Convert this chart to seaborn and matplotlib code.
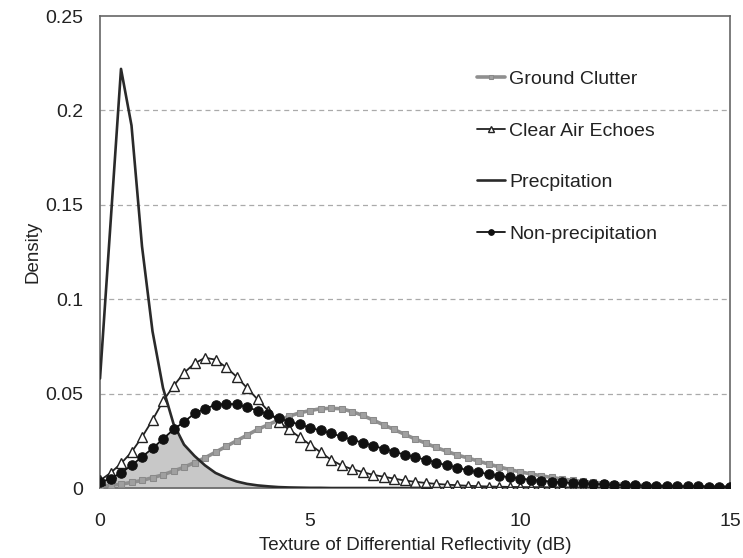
import numpy as np
import pandas as pd
import matplotlib
matplotlib.use("Agg")
import matplotlib.pyplot as plt
import seaborn as sns

x_db = [i * 0.25 for i in range(61)]

ground_clutter = [
    0.001, 0.0015, 0.002, 0.003, 0.004, 0.0055, 0.007, 0.009, 0.011, 0.0135,
    0.016, 0.019, 0.022, 0.025, 0.028, 0.031, 0.0335, 0.036, 0.038, 0.0398,
    0.041, 0.042, 0.0422, 0.042, 0.0405, 0.0385, 0.036, 0.0335, 0.031, 0.0285,
    0.026, 0.0238, 0.0215, 0.0195, 0.0175, 0.016, 0.0143, 0.0127, 0.0112, 0.0098,
    0.0086, 0.0075, 0.0065, 0.0056, 0.0048, 0.0041, 0.0035, 0.003, 0.0026, 0.0022,
    0.0019, 0.0016, 0.0014, 0.0012, 0.001, 0.0009, 0.0008, 0.0007, 0.0006, 0.0005,
    0.0004,
]

clear_air = [
    0.004, 0.008, 0.013, 0.019, 0.027, 0.036, 0.046, 0.054, 0.061, 0.066,
    0.069, 0.068, 0.064, 0.059, 0.053, 0.047, 0.041, 0.035, 0.031, 0.027,
    0.023, 0.019, 0.015, 0.012, 0.010, 0.0085, 0.007, 0.006, 0.005, 0.004,
    0.0033, 0.0027, 0.0022, 0.0018, 0.0015, 0.0012, 0.001, 0.0008, 0.0007, 0.0006,
    0.0005, 0.0004, 0.0004, 0.0003, 0.0003, 0.0002, 0.0002, 0.0002, 0.0001, 0.0001,
    0.0001, 0.0001, 0.0001, 0.0001, 0.0001, 0.0, 0.0, 0.0, 0.0, 0.0,
    0.0,
]

precipitation = [
    0.058, 0.14, 0.222, 0.192, 0.128, 0.083, 0.053, 0.034, 0.023, 0.017,
    0.012, 0.008, 0.0055, 0.0035, 0.0022, 0.0014, 0.0009, 0.0005, 0.0003, 0.0002,
    0.0001, 0.0001, 0.0, 0.0, 0.0, 0.0, 0.0, 0.0, 0.0, 0.0,
    0.0, 0.0, 0.0, 0.0, 0.0, 0.0, 0.0, 0.0, 0.0, 0.0,
    0.0, 0.0, 0.0, 0.0, 0.0, 0.0, 0.0, 0.0, 0.0, 0.0,
    0.0, 0.0, 0.0, 0.0, 0.0, 0.0, 0.0, 0.0, 0.0, 0.0,
    0.0,
]

non_precipitation = [
    0.003, 0.005, 0.008, 0.012, 0.0165, 0.021, 0.026, 0.031, 0.035, 0.0395,
    0.042, 0.044, 0.0447, 0.0443, 0.0428, 0.041, 0.039, 0.037, 0.0352, 0.0337,
    0.032, 0.0305, 0.029, 0.0273, 0.0256, 0.024, 0.0224, 0.0208, 0.0192, 0.0177,
    0.0163, 0.015, 0.0135, 0.0121, 0.0108, 0.0095, 0.0084, 0.0074, 0.0065, 0.0057,
    0.005, 0.0044, 0.0039, 0.0034, 0.003, 0.0027, 0.0024, 0.0021, 0.0019, 0.0017,
    0.0015, 0.0014, 0.0013, 0.0012, 0.0011, 0.001, 0.0009, 0.0009, 0.0008, 0.0008,
    0.0008,
]

labels = ["Ground Clutter", "Clear Air Echoes", "Precpitation", "Non-precipitation"]
x_ticks = [0, 5, 10, 15]
y_ticks = [0, 0.05, 0.1, 0.15, 0.2, 0.25]
y_tick_labels = ["0", "0.05", "0.1", "0.15", "0.2", "0.25"]

sns.set_style("white")
plt.rcParams["font.family"] = ["Liberation Sans", "DejaVu Sans"]

fig = plt.figure(figsize=(7.43, 5.58), dpi=100)
ax = fig.add_axes([0.1346, 0.1254, 0.8479, 0.8459])

df = pd.DataFrame({
    "x": x_db,
    "gc": ground_clutter,
    "ca": clear_air,
    "pr": precipitation,
    "np": non_precipitation,
})

# shaded overlap of precipitation and non-precipitation
ax.fill_between(df["x"], 0, np.minimum(df["pr"], df["np"]), color="#c8c8c8", zorder=1, lw=0)

sns.lineplot(data=df, x="x", y="gc", ax=ax, color="#8f8f8f", lw=2.6,
             marker="s", markersize=5, markeredgecolor="#8a8a8a",
             markerfacecolor="#a0a0a0", label=labels[0], zorder=3)
sns.lineplot(data=df, x="x", y="ca", ax=ax, color="#222222", lw=1.3,
             marker="^", markersize=6.5, markeredgecolor="#222222",
             markerfacecolor="white", markeredgewidth=1.0, label=labels[1], zorder=4)
sns.lineplot(data=df, x="x", y="pr", ax=ax, color="#2a2a2a", lw=1.9,
             label=labels[2], zorder=5)
sns.lineplot(data=df, x="x", y="np", ax=ax, color="#111111", lw=1.3,
             marker="o", markersize=6.8, markeredgecolor="#111111",
             markerfacecolor="#111111", label=labels[3], zorder=6)

ax.set_xlim(0, 15)
ax.set_ylim(0, 0.25)
ax.set_xticks(x_ticks)
ax.set_xticklabels([str(t) for t in x_ticks])
ax.set_yticks(y_ticks)
ax.set_yticklabels(y_tick_labels)
ax.tick_params(axis="both", length=0, labelsize=14, colors="#222222")
ax.tick_params(axis="y", pad=12)
ax.tick_params(axis="x", pad=18)

for yv in [0.05, 0.1, 0.15, 0.2]:
    ax.axhline(yv, color="#aaaaaa", lw=0.9, ls=(0, (4, 3)), zorder=0)

for side in ["left", "top", "right", "bottom"]:
    ax.spines[side].set_visible(True)
    ax.spines[side].set_color("#666666")
    ax.spines[side].set_linewidth(1.2)

ax.set_xlabel("Texture of Differential Reflectivity (dB)", fontsize=13.5, color="#222222", labelpad=5)
ax.set_ylabel("Density", fontsize=13.5, color="#222222", labelpad=3)

leg = ax.legend(loc="upper left", bbox_to_anchor=(0.571, 0.922), frameon=False,
                fontsize=14, labelspacing=1.75, handlelength=1.45,
                handletextpad=0.2, markerscale=0.6)
for t in leg.get_texts():
    t.set_color("#222222")

fig.savefig("out.png", dpi=100)
